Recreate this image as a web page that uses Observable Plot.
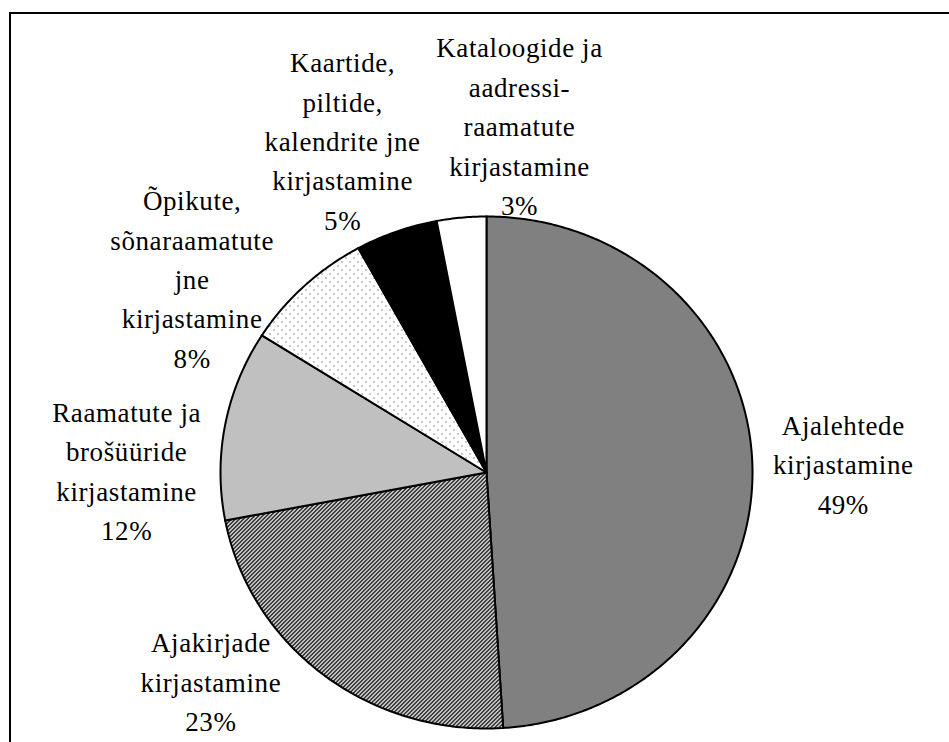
<!DOCTYPE html>
<html><head><meta charset="utf-8">
<script src="https://cdn.jsdelivr.net/npm/d3@7"></script>
<script src="https://cdn.jsdelivr.net/npm/@observablehq/plot@0.6"></script>
<style>
body{margin:0;background:#fff;overflow:hidden}
#wrap{position:relative;width:949px;height:742px;overflow:hidden}
#frame{position:absolute;left:9px;top:12px;width:1000px;height:800px;border-top:2px solid #000;border-left:2px solid #000;pointer-events:none}
</style></head><body><div id="wrap"><div id="frame"></div></div>
<script>
// --- data ---
const categories = [
  "Ajalehtede kirjastamine",
  "Ajakirjade kirjastamine",
  "Raamatute ja brošüüride kirjastamine",
  "Õpikute, sõnaraamatute jne kirjastamine",
  "Kaartide, piltide, kalendrite jne kirjastamine",
  "Kataloogide ja aadressiraamatute kirjastamine"
];
const shares = [49, 23, 12, 8, 5, 3];
const labelLines = [
  ["Ajalehtede", "kirjastamine"],
  ["Ajakirjade", "kirjastamine"],
  ["Raamatute ja", "brošüüride", "kirjastamine"],
  ["Õpikute,", "sõnaraamatute", "jne", "kirjastamine"],
  ["Kaartide,", "piltide,", "kalendrite jne", "kirjastamine"],
  ["Kataloogide ja", "aadressi-", "raamatute", "kirjastamine"]
];

// --- styles / layout ---
const sliceFills = ["#808080", "url(#hatch)", "#c0c0c0", "url(#dots)", "#000000", "#ffffff"];
// label placement: [angle shift from slice mid (deg), distance in radii]
const labelNudge = [[0, 1.342], [14.3, 1.313], [-10.1, 1.353], [-12.1, 1.346], [-2.7, 1.413], [10.6, 1.369]];

const total = d3.sum(shares);
let acc = 0;
const slices = shares.map((v, i) => {
  const a0 = acc / total * 2 * Math.PI;
  acc += v;
  const a1 = acc / total * 2 * Math.PI;
  return {i, a0, a1, mid: (a0 + a1) / 2};
});
function slicePoints(s) {
  const pts = [[0, 0]];
  const n = Math.max(2, Math.ceil((s.a1 - s.a0) / (Math.PI / 360)));
  for (let k = 0; k <= n; k++) {
    const a = s.a0 + (s.a1 - s.a0) * k / n;
    pts.push([Math.sin(a), Math.cos(a)]);
  }
  pts.push([0, 0]);
  return pts;
}
const labels = slices.map((s, i) => {
  const a = s.mid + labelNudge[i][0] * Math.PI / 180;
  const r = labelNudge[i][1];
  return {x: r * Math.sin(a), y: r * Math.cos(a), text: labelLines[i].join("\n") + "\n" + shares[i] + "%"};
});

const svg = Plot.plot({
  width: 949,
  height: 742,
  margin: 0,
  x: {domain: [-1, 1], range: [220, 752], axis: null},
  y: {domain: [-1, 1], range: [728, 216], axis: null},
  style: {fontFamily: "'Liberation Serif', 'Times New Roman', serif", letterSpacing: "0.6px", background: "transparent", overflow: "visible"},
  marks: [
    ...slices.map((s, i) => Plot.line(slicePoints(s), {
      fill: sliceFills[i], stroke: "#000", strokeWidth: 2, strokeLinejoin: "miter", strokeMiterlimit: 4
    })),
    Plot.text(labels, {
      x: "x", y: "y", text: "text", fontSize: 27, lineHeight: 1.46,
      textAnchor: "middle", lineAnchor: "middle", fill: "#000"
    })
  ]
});

// pixel-pattern tiles (upward diagonal hatch, sparse dots)
let hatchRects = "";
for (let px = 0; px < 4; px++) for (let py = 0; py < 4; py++) {
  if ((px + py) % 4 === 0 || (px + py) % 4 === 1) hatchRects += `<rect x="${px}" y="${py}" width="1" height="1" fill="#000"/>`;
}
d3.select(svg).insert("defs", ":first-child").html(`
  <pattern id="hatch" width="4" height="4" patternUnits="userSpaceOnUse" shape-rendering="crispEdges">
    <rect width="4" height="4" fill="#fff"/>${hatchRects}
  </pattern>
  <pattern id="dots" width="8" height="8" patternUnits="userSpaceOnUse" shape-rendering="crispEdges">
    <rect width="8" height="8" fill="#fff"/>
    <rect x="1" y="1" width="1" height="1" fill="#222"/>
    <rect x="5" y="5" width="1" height="1" fill="#222"/>
  </pattern>
`);
const wrap = document.getElementById("wrap");
wrap.insertBefore(svg, wrap.firstChild);
</script>
</body></html>
